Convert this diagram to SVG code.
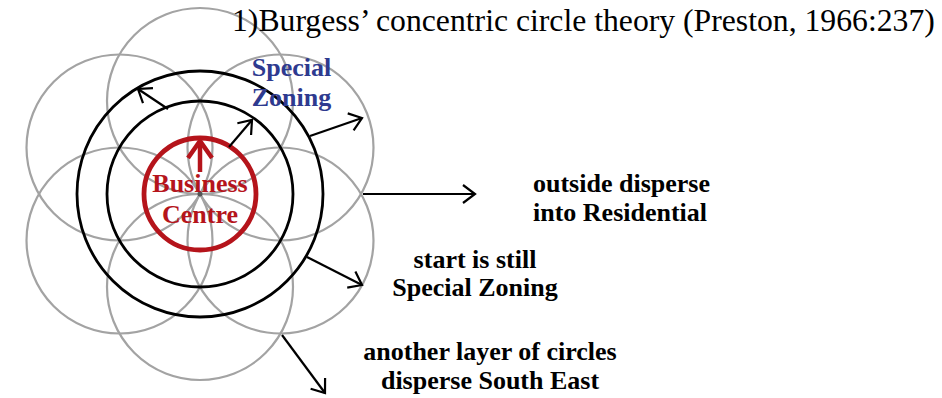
<svg xmlns="http://www.w3.org/2000/svg" width="942" height="398" viewBox="0 0 942 398">
  <style>
    .gray { fill: none; stroke: #a3a3a3; stroke-width: 2.2; }
    .ring { fill: none; stroke: #000; stroke-width: 2.8; }
    .conn { fill: none; stroke: #000; stroke-width: 2.2; marker-end: url(#arr); }
    .lbl { font-family: "Liberation Serif", "Times New Roman", serif; font-weight: bold; font-size: 26px; fill: #000; }
    .title { font-family: "Liberation Serif", "Times New Roman", serif; font-size: 31.7px; fill: #000; }
  </style>
  <defs>
    <marker id="arr" viewBox="0 0 18 20" refX="14" refY="10" markerWidth="18" markerHeight="20" markerUnits="userSpaceOnUse" orient="auto" overflow="visible">
      <path d="M2,1 L14,10 L2,19" fill="none" stroke="#000" stroke-width="2.2" stroke-linejoin="miter"/>
    </marker>
    <marker id="arrR" viewBox="0 0 24 28" refX="19" refY="14" markerWidth="24" markerHeight="28" markerUnits="userSpaceOnUse" orient="auto" overflow="visible">
      <path d="M2,2 L19,14 L2,26" fill="none" stroke="#b5141b" stroke-width="4.5"/>
    </marker>
  </defs>

  <g id="flower">
    <circle class="gray" cx="200" cy="101" r="93"/>
    <circle class="gray" cx="200" cy="287" r="93"/>
    <circle class="gray" cx="119.5" cy="147.5" r="93"/>
    <circle class="gray" cx="280.5" cy="147.5" r="93"/>
    <circle class="gray" cx="119.5" cy="240.5" r="93"/>
    <circle class="gray" cx="280.5" cy="240.5" r="93"/>
    <circle cx="200" cy="194" r="2.5" fill="#555"/>
  </g>

  <g id="rings">
    <circle class="ring" cx="200" cy="194" r="93"/>
    <circle class="ring" cx="200" cy="194" r="123"/>
  </g>

  <g id="business-centre">
    <circle cx="200" cy="194" r="56" fill="none" stroke="#b5141b" stroke-width="4.8"/>
    <text x="200" y="192" text-anchor="middle" class="lbl" style="fill:#b5141b">Business</text>
    <text x="200" y="223" text-anchor="middle" class="lbl" style="fill:#b5141b">Centre</text>
  </g>

  <g id="connectors">
    <line x1="200" y1="172" x2="200" y2="141" stroke="#b5141b" stroke-width="4.5" marker-end="url(#arrR)"/>
    <line class="conn" x1="168" y1="109" x2="138" y2="89"/>
    <line class="conn" x1="229" y1="147" x2="252" y2="120"/>
    <line class="conn" x1="310" y1="136" x2="362" y2="118"/>
    <line class="conn" x1="363" y1="194" x2="475" y2="194"/>
    <line class="conn" x1="307" y1="257" x2="362" y2="285"/>
    <line class="conn" x1="282" y1="335" x2="325" y2="393"/>
  </g>

  <g id="title">
    <text x="232" y="31" class="title">1)Burgess’ concentric circle theory (Preston, 1966:237)</text>
  </g>

  <g id="special-zoning">
    <text x="291.5" y="76" text-anchor="middle" class="lbl" style="fill:#2e3a8f">Special</text>
    <text x="291.5" y="106" text-anchor="middle" class="lbl" style="fill:#2e3a8f">Zoning</text>
  </g>

  <g id="outside-disperse">
    <text x="533" y="192" class="lbl">outside disperse</text>
    <text x="533" y="221" class="lbl">into Residential</text>
  </g>

  <g id="start-still">
    <text x="475" y="268" text-anchor="middle" class="lbl">start is still</text>
    <text x="475" y="296" text-anchor="middle" class="lbl">Special Zoning</text>
  </g>

  <g id="another-layer">
    <text x="490" y="360" text-anchor="middle" class="lbl">another layer of circles</text>
    <text x="490" y="389" text-anchor="middle" class="lbl">disperse South East</text>
  </g>
</svg>
